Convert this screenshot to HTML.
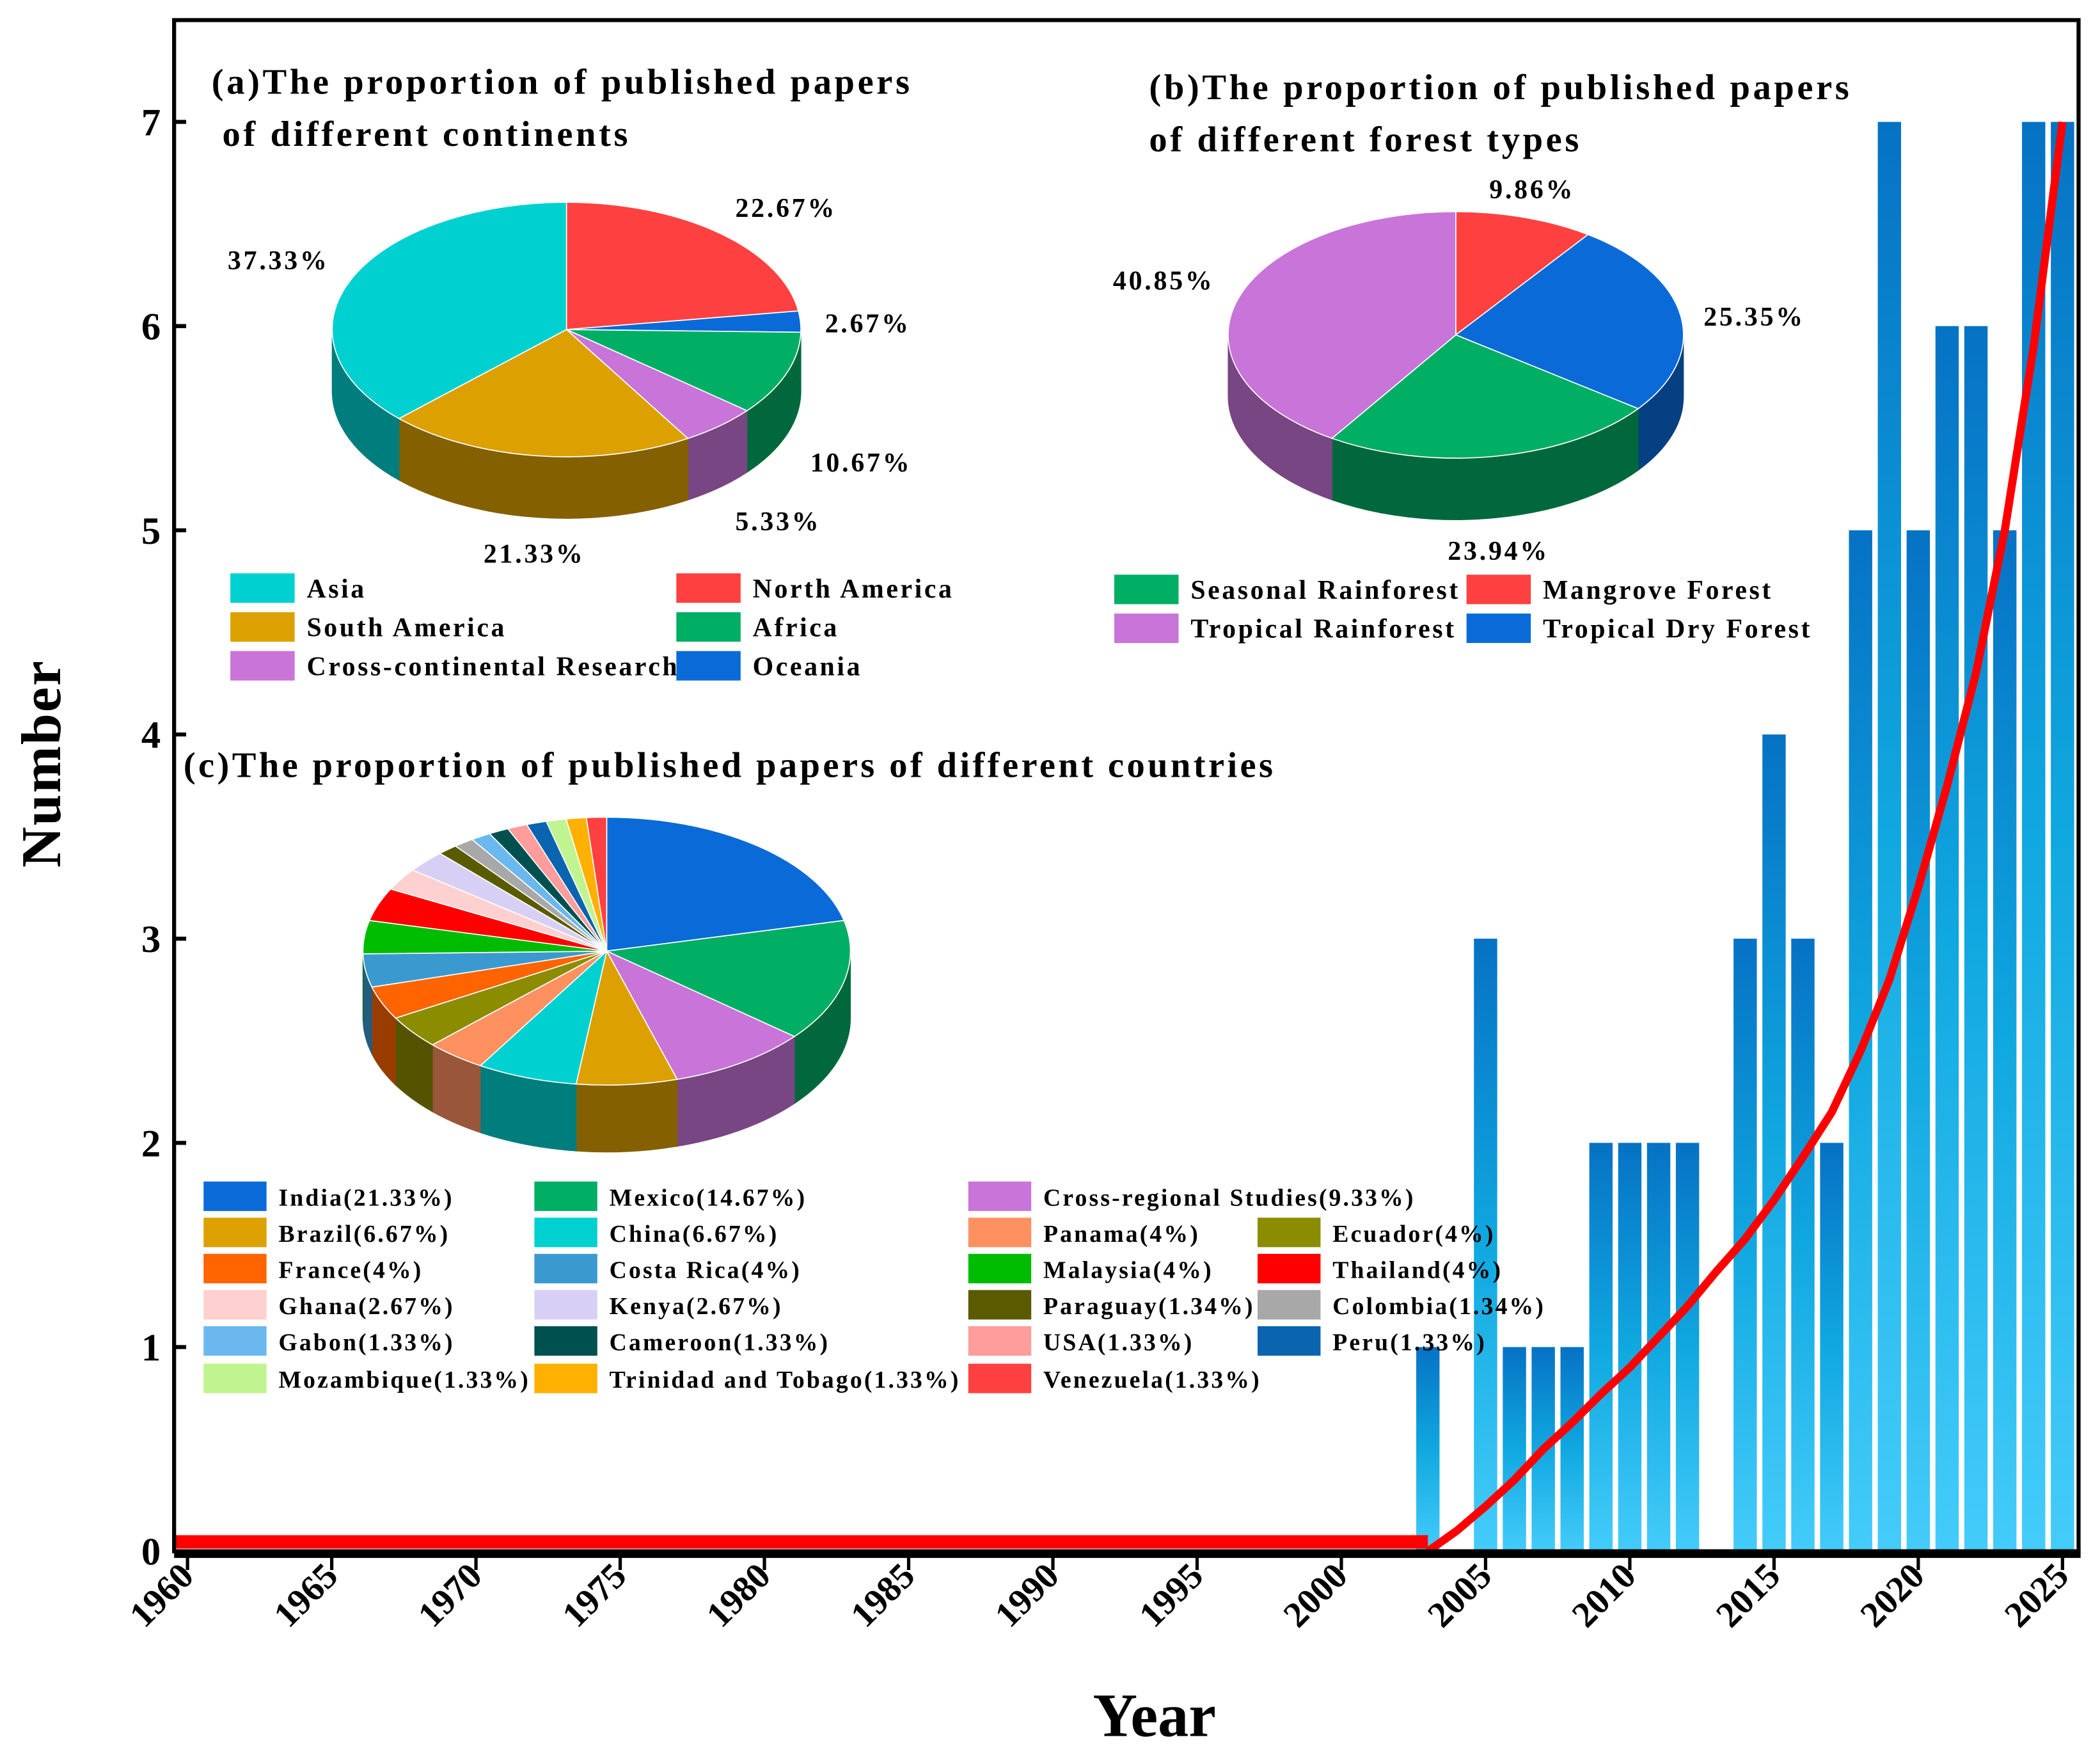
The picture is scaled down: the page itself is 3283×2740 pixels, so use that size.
<!DOCTYPE html>
<html><head><meta charset="utf-8"><style>
html,body{margin:0;padding:0;background:#fff;}
svg{display:block;}
text{font-family:"Liberation Serif",serif;font-weight:bold;fill:#000;}
</style></head><body>
<svg id="chart" width="3283" height="2740" viewBox="0 0 1568 1308.6" preserveAspectRatio="none" xmlns="http://www.w3.org/2000/svg">
<defs>
<linearGradient id="barGrad" x1="0" y1="0" x2="0" y2="1"><stop offset="0" stop-color="#0672c4"/><stop offset="0.5" stop-color="#10a8e0"/><stop offset="1" stop-color="#44ccfa"/></linearGradient>
</defs>
<g id="bars"></g>
<g id="pies"></g>
<g id="legends"></g>
<g id="axes"></g>
</svg>
<script>
const years = [2003,2004,2005,2006,2007,2008,2009,2010,2011,2012,2013,2014,2015,2016,2017,2018,2019,2020,2021,2022,2023,2024,2025];
const counts = [1,0,3,1,1,1,2,2,2,2,0,3,4,3,2,5,7,5,6,6,5,7,7];
const fitValues = [0,0.1,0.22,0.35,0.5,0.63,0.77,0.9,1.05,1.2,1.37,1.53,1.72,1.93,2.15,2.45,2.8,3.25,3.75,4.3,5.0,5.9,7.0];
const xTicks = ["1960","1965","1970","1975","1980","1985","1990","1995","2000","2005","2010","2015","2020","2025"];
const yTicks = [0,1,2,3,4,5,6,7];

const contLabels = ["North America","Oceania","Africa","Cross-continental Research","South America","Asia"];
const contValues = [22.67,2.67,10.67,5.33,21.33,37.33];
const contColors = ["#ff4040","#0a6ad8","#00ae64","#c874d8","#dca000","#00d0d0"];

const forestLabels = ["Mangrove Forest","Tropical Dry Forest","Seasonal Rainforest","Tropical Rainforest"];
const forestValues = [9.86,25.35,23.94,40.85];
const forestColors = ["#ff4040","#0a6ad8","#00ae64","#c874d8"];

const countryLabels = ["India","Mexico","Cross-regional Studies","Brazil","China","Panama","Ecuador","France","Costa Rica","Malaysia","Thailand","Ghana","Kenya","Paraguay","Colombia","Gabon","Cameroon","USA","Peru","Mozambique","Trinidad and Tobago","Venezuela"];
const countryValues = [21.33,14.67,9.33,6.67,6.67,4,4,4,4,4,4,2.67,2.67,1.34,1.34,1.33,1.33,1.33,1.33,1.33,1.33,1.33];
const countryColors = ["#0a6ad8","#00ae64","#c874d8","#dca000","#00d0d0","#ff9060","#8c8c00","#ff6400","#3a9ad0","#00bc00","#ff0000","#ffd0d0","#d8d0f4","#5a5a00","#a8a8a8","#6ab8ee","#005050","#ff9c9c","#0a64b0","#c0f490","#ffb000","#ff4040"];

const NS="http://www.w3.org/2000/svg";
function mk(tag, parent, attrs){const e=document.createElementNS(NS,tag);for(const k in attrs)e.setAttribute(k,attrs[k]);parent.appendChild(e);return e;}
const L=130,R=1552,T=15,B=1158;
const X0=140, XPY=(1540-140)/65;
const xs = y => X0+(y-1960)*XPY;
const ys = v => B - v*((B-91)/7);

const gb=document.getElementById('bars');
years.forEach((yr,i)=>{ if(counts[i]<=0) return;
  const r=mk('rect',gb,{x:xs(yr)-8.7,y:ys(counts[i]),width:17.4,height:ys(0)-ys(counts[i]),fill:'url(#barGrad)'});
  
  
});
const base=mk('rect',gb,{x:L,y:ys(0)-12,width:xs(years[0])-L,height:10,fill:'#ff0000'});


let pd='M'+xs(years[0])+','+ys(0);
years.forEach((yr,i)=>{ if(i>0) pd+=' L'+xs(yr)+','+ys(fitValues[i]); });
const fc=mk('path',gb,{d:pd,fill:'none',stroke:'#ff0000','stroke-width':6,'stroke-linejoin':'round'});



const ga=document.getElementById('axes');
const fr=mk('rect',ga,{x:L,y:T,width:R-L,height:B-T,fill:'none',stroke:'#000','stroke-width':3});


const xl=mk('line',ga,{x1:L,y1:B+2,x2:R+1.5,y2:B+2,stroke:'#000','stroke-width':6});


xTicks.forEach((t,i)=>{const x=xs(+t);
  const tk=mk('line',ga,{x1:x,y1:B+4,x2:x,y2:B+14,stroke:'#000','stroke-width':2.5});
  
  
  const tx=mk('text',ga,{x:x+6,y:B+20,'font-size':27,'text-anchor':'end',transform:'rotate(-45 '+(x+6)+' '+(B+20)+')'});
  tx.textContent=t;
  
  
});
yTicks.forEach(v=>{const y=ys(v);
  const tk=mk('line',ga,{x1:L,y1:y,x2:L+9,y2:y,stroke:'#000','stroke-width':3});
  
  
  const tx=mk('text',ga,{x:120,y:y+10,'font-size':29,'text-anchor':'end'});
  tx.textContent=v;
  
  
});
let t=mk('text',ga,{x:862,y:1296,'font-size':46,'text-anchor':'middle'});t.textContent='Year';


t=mk('text',ga,{x:45,y:570,'font-size':42,'text-anchor':'middle',transform:'rotate(-90 45 570)','letter-spacing':1});t.textContent='Number';



const gp=document.getElementById('pies');
function shade(c,f){const n=parseInt(c.slice(1),16);let r=n>>16,g=(n>>8)&255,b=n&255;return 'rgb('+Math.round(r*f)+','+Math.round(g*f)+','+Math.round(b*f)+')';}
function pie(name,cx,cy,rx,ry,dep,vals,cols){
  const g=mk('g',gp,{});
  
  
  const tot=vals.reduce((a,b)=>a+b,0);
  let a=-Math.PI/2; const segs=[];
  vals.forEach((v,i)=>{const a2=a+v/tot*2*Math.PI;segs.push([a,a2,cols[i]]);a=a2;});
  const P=(an,dy)=>(cx+rx*Math.cos(an)).toFixed(2)+','+(cy+dy+ry*Math.sin(an)).toFixed(2);
  segs.forEach(([s,e,c])=>{
    [[0,Math.PI],[2*Math.PI,3*Math.PI]].forEach(([f0,f1])=>{
      const s1=Math.max(s,f0),e1=Math.min(e,f1);
      if(e1<=s1) return;
      const pth='M'+P(s1,0)+' A'+rx+','+ry+' 0 0 1 '+P(e1,0)+' L'+P(e1,dep)+' A'+rx+','+ry+' 0 0 0 '+P(s1,dep)+' Z';
      const w=mk('path',g,{d:pth,fill:shade(c,0.6),stroke:shade(c,0.6),'stroke-width':0.5});
      
      
    });
  });
  segs.forEach(([s,e,c])=>{
    const large=(e-s)>Math.PI?1:0;
    const pth='M'+cx+','+cy+' L'+P(s,0)+' A'+rx+','+ry+' 0 '+large+' 1 '+P(e,0)+' Z';
    const w=mk('path',g,{d:pth,fill:c,stroke:'#fff','stroke-width':0.8});
    
    
  });
}
pie('pie-continents',423,246,175,95,46,contValues,contColors);
pie('pie-forest-types',1087,250,170,92,46,forestValues,forestColors);
pie('pie-countries',453,710,182,100,50,countryValues,countryColors);

const gl=document.getElementById('legends');
function txt(s,x,y,fs,name,ls){const e=mk('text',gl,{x:x,y:y,'font-size':fs,'letter-spacing':ls});e.textContent=s;
  
  return e;}
txt('(a)The proportion of published papers',158,70,27,'title-a',2.2);
txt(' of different continents',166,109,27,'title-a-line2',2.2);
txt('(b)The proportion of published papers',858,74,27,'title-b',2.2);
txt('of different forest types',858,113,27,'title-b-line2',2.2);
txt('(c)The proportion of published papers of different countries',137,580,27,'title-c',2.1);
const pctA=[[549,162,'22.67%'],[170,201,'37.33%'],[616,248,'2.67%'],[605,352,'10.67%'],[549,396,'5.33%'],[361,420,'21.33%']];
pctA.forEach(p=>txt(p[2],p[0],p[1],20,'pie-a-percent-label',1.8));
const pctB=[[1112,148,'9.86%'],[831,216,'40.85%'],[1272,243,'25.35%'],[1081,418,'23.94%']];
pctB.forEach(p=>txt(p[2],p[0],p[1],20,'pie-b-percent-label',1.8));

function legendItem(lbl,col,sx,cy,w,h,fs,name,ls){
  const r=mk('rect',gl,{x:sx,y:cy-h/2,width:w,height:h,fill:col});
  
  
  txt(lbl,sx+w+9,cy+7,fs,name,ls);
}
const aOrder=[[5,172,439],[0,505,439],[4,172,468],[2,505,468],[3,172,497],[1,505,497]];
aOrder.forEach(o=>legendItem(contLabels[o[0]],contColors[o[0]],o[1],o[2],48,22,20,'legend-entry',1.7));
const bOrder=[[2,832,440],[0,1095,440],[3,832,469],[1,1095,469]];
bOrder.forEach(o=>legendItem(forestLabels[o[0]],forestColors[o[0]],o[1],o[2],48,22,20,'legend-entry',1.7));
const cCols=[152,399,723,939];
const cRows=[893,920,947,974,1001,1029];
const cLayout=[[0,1,2],[3,4,5,6],[7,8,9,10],[11,12,13,14],[15,16,17,18],[19,20,21]];
cLayout.forEach((row,ri)=>row.forEach((idx,ci)=>{
  legendItem(countryLabels[idx]+'('+(countryValues[idx]===4?'4':countryValues[idx].toFixed(2))+'%)',countryColors[idx],cCols[ci],cRows[ri],47,22,18,'legend-entry',1.5);
}));
</script>
</body></html>
